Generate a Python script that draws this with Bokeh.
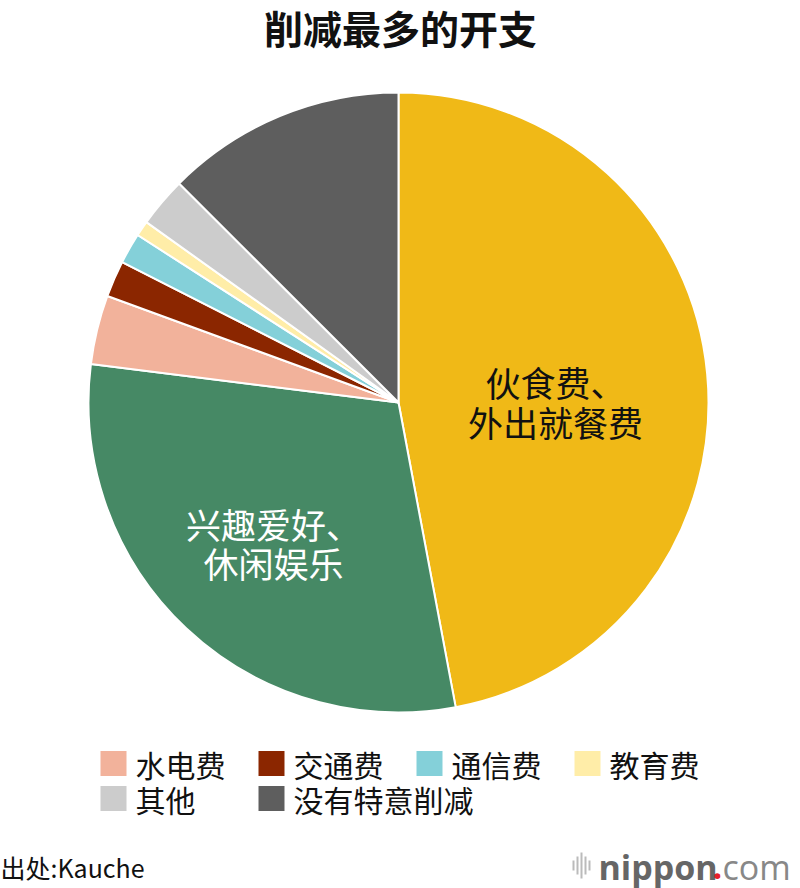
import numpy as np
from bokeh.plotting import figure
from bokeh.models import Range1d, ColumnDataSource
from bokeh.core.properties import value
from bokeh.embed import file_html
from bokeh.resources import INLINE

# ---- data ----
title = "削减最多的开支"
categories = ["伙食费、外出就餐费", "兴趣爱好、休闲娱乐", "水电费", "交通费",
              "通信费", "教育费", "其他", "没有特意削减"]
shares = [47.0, 29.9, 3.6, 1.9, 1.6, 0.8, 2.6, 12.5]
colors = ["#F0B917", "#468965", "#F2B29B", "#8B2600",
          "#84D0D9", "#FFEDA8", "#CCCCCC", "#5E5E5E"]
inside_labels = [["伙食费、", "外出就餐费"], ["兴趣爱好、", "休闲娱乐"]]
inside_colors = ["#111111", "#FFFFFF"]
legend_items = ["水电费", "交通费", "通信费", "教育费", "其他", "没有特意削减"]
source_text = "出处:Kauche"

FONT = "Noto Sans CJK SC"
W, H = 800, 888

def Y(page_y):
    return H - page_y

p = figure(width=W, height=H, x_range=Range1d(0, W), y_range=Range1d(0, H),
           output_backend="svg", toolbar_location=None, min_border=0)
p.axis.visible = False
p.grid.visible = False
p.outline_line_color = None
p.background_fill_color = "white"

# ---- pie ----
cx, cy, r = 398, Y(402), 310
vals = np.array(shares, dtype=float)
frac = vals / vals.sum()
cum = np.concatenate([[0.0], np.cumsum(frac)])
start = np.deg2rad(90 - 360 * cum[1:])
end = np.deg2rad(90 - 360 * cum[:-1])
src = ColumnDataSource(dict(start=start, end=end, color=colors,
                            x=[cx] * len(vals), y=[cy] * len(vals)))
p.wedge(x="x", y="y", radius=r, start_angle="start", end_angle="end",
        fill_color="color", line_color="white", line_width=2, source=src)

# inside labels
label_pos = [(555, [381, 421]), (273, [523, 562])]
for (lx, lys), lines, col in zip(label_pos, inside_labels, inside_colors):
    p.text(x=[lx] * len(lines), y=[Y(v) for v in lys], text=lines,
           text_font=value(FONT), text_font_size="35px", text_color=col,
           text_align="center", text_baseline="middle")

# ---- title ----
p.text(x=[400], y=[Y(26)], text=[title], text_font=value(FONT),
       text_font_size="39px", text_font_style="bold", text_color="#111111",
       text_align="center", text_baseline="middle")

# ---- legend ----
col_x = [100, 258, 416, 574]
row_y = [763, 798]
leg_colors = colors[2:]
lx, ly = [], []
for i, name in enumerate(legend_items):
    row, col = divmod(i, 4)
    lx.append(col_x[col])
    ly.append(row_y[row])
p.rect(x=[v + 13 for v in lx], y=[Y(v) for v in ly], width=26, height=25,
       fill_color=leg_colors, line_color=None)
p.text(x=[v + 35 for v in lx], y=[Y(v) for v in ly], text=legend_items,
       text_font=value(FONT), text_font_size="30px", text_color="#111111",
       text_align="left", text_baseline="middle")

# ---- footer ----
p.text(x=[0], y=[Y(866)], text=[source_text], text_font=value(FONT),
       text_font_size="25px", text_color="#111111", text_align="left",
       text_baseline="middle")

# nippon.com logo
bar_x = [573, 577, 581, 585, 589]
bar_h = [10, 18, 26, 18, 10]
p.segment(x0=bar_x, y0=[Y(865 - h / 2) for h in bar_h],
          x1=bar_x, y1=[Y(865 + h / 2) for h in bar_h],
          line_color="#BBBBBB", line_width=2)
p.text(x=[598], y=[Y(866)], text=["nippon"], text_font=value("Open Sans"),
       text_font_size="34px", text_font_style="bold", text_color="#666666",
       text_align="left", text_baseline="middle")
p.text(x=[712], y=[Y(866)], text=["."], text_font=value("Open Sans"),
       text_font_size="34px", text_font_style="bold", text_color="#E8202A",
       text_align="left", text_baseline="middle")
p.text(x=[722], y=[Y(866)], text=["com"], text_font=value("Open Sans"),
       text_font_size="34px", text_color="#888888",
       text_align="left", text_baseline="middle")

open("out.html", "w").write(file_html(p, INLINE))
